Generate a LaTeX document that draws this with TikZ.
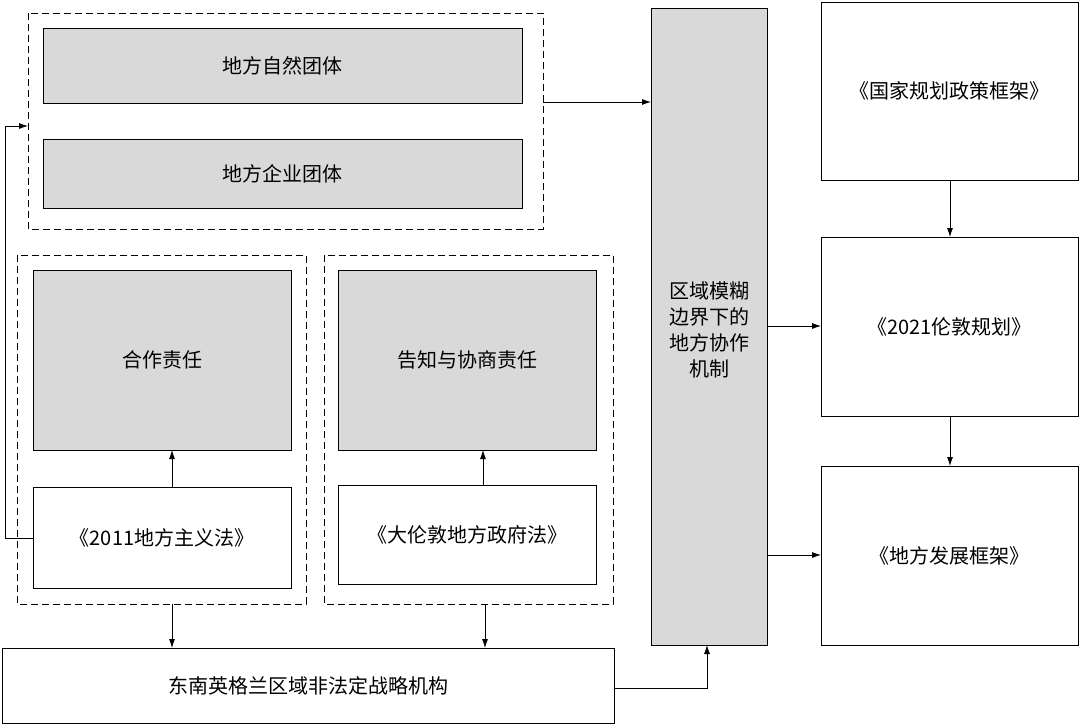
\documentclass[tikz,border=0pt]{standalone}
\usepackage{fontspec}
\setmainfont{Noto Sans CJK SC}
\usetikzlibrary{arrows.meta}
\begin{document}
\begin{tikzpicture}[x=1pt,y=-1pt,
  every node/.style={font=\fontsize{20}{26}\selectfont},
  gbox/.style={draw,fill=gray!30,line width=0.8pt},
  wbox/.style={draw,fill=white,line width=0.8pt},
  dbox/.style={draw,line width=0.8pt,dash pattern=on 7pt off 4pt},
  arr/.style={-{Latex[length=9pt,width=6pt]},line width=0.8pt}]
\useasboundingbox (0,0) rectangle (1080,725);
\draw[dbox] (28,13) rectangle (543,229);
\coordinate (dtopR) at (543,102);
\coordinate (dtopL) at (28,126);
\draw[gbox] (43,28) rectangle node (n1) {地方自然团体} (522,103);
\draw[gbox] (43,139) rectangle node (n2) {地方企业团体} (522,208);
\draw[dbox] (17,255) rectangle (306,604);
\draw[dbox] (324,255) rectangle (613,604);
\draw[gbox] (33,270) rectangle node (hz) {合作责任} (291,450);
\draw[wbox] (33,487) rectangle node (law1) {《2011地方主义法》} (291,588);
\draw[gbox] (338,270) rectangle node (gz) {告知与协商责任} (596,450);
\draw[wbox] (338,485) rectangle node (law2) {《大伦敦地方政府法》} (596,584);
\draw[wbox] (2,648) rectangle node (bot) {东南英格兰区域非法定战略机构} (614,723);
\draw[gbox] (651,8) rectangle (767,645);
\node[align=center] (mech) at (709,330) {区域模糊\\边界下的\\地方协作\\机制};
\draw[wbox] (821,2) rectangle node (r1) {《国家规划政策框架》} (1078,180);
\draw[wbox] (821,237) rectangle node (r2) {《2021伦敦规划》} (1078,416);
\draw[wbox] (821,466) rectangle node (r3) {《地方发展框架》} (1078,645);
\draw[arr] (dtopR) -- (651,102);
\draw[arr] (33,538) -- (5,538) -- (5,126) -- (dtopL);
\draw[arr] (172,487) -- (172,450);
\draw[arr] (483,485) -- (483,450);
\draw[arr] (172,604) -- (172,648);
\draw[arr] (485,604) -- (485,648);
\draw[arr] (614,688) -- (707,688) -- (707,645);
\draw[arr] (767,326) -- (821,326);
\draw[arr] (767,555) -- (821,555);
\draw[arr] (950,180) -- (950,237);
\draw[arr] (950,416) -- (950,466);
\end{tikzpicture}
\end{document}
